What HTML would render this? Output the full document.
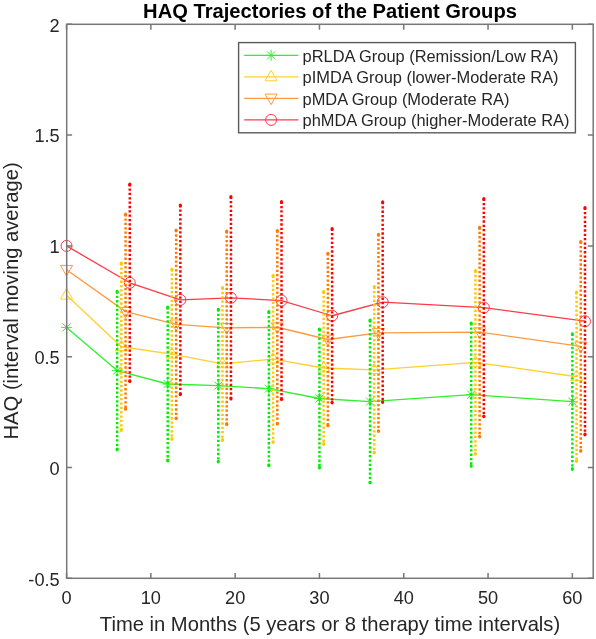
<!DOCTYPE html>
<html><head><meta charset="utf-8"><style>
html,body{margin:0;padding:0;background:#fff;width:596px;height:639px;overflow:hidden}
svg{display:block;will-change:transform}
</style></head><body>
<svg width="596" height="639" viewBox="0 0 596 639">
<style>
text{font-family:"Liberation Sans",sans-serif;fill:#262626}
.tl{font-size:18.2px}
.lg{font-size:16.4px}
.ti{font-size:20.15px;font-weight:bold;fill:#000}
.al{font-size:20.2px}
</style>
<rect width="596" height="639" fill="#fff"/>
<path d="M66.55 327.40 L117.13 370.60 L167.71 384.00 L218.29 385.60 L268.87 388.65 L319.45 398.50 L370.03 401.55 L471.19 394.65 L572.35 401.55" stroke="#30ee30" stroke-width="1.3" fill="none" stroke-linejoin="round"/><path d="M61.15 327.40H71.95M66.55 322.00V332.80M62.55 323.40L70.55 331.40M62.55 331.40L70.55 323.40" stroke="#30ee30" stroke-width="1" fill="none"/><path d="M111.73 370.60H122.53M117.13 365.20V376.00M113.13 366.60L121.13 374.60M113.13 374.60L121.13 366.60" stroke="#30ee30" stroke-width="1" fill="none"/><path d="M162.31 384.00H173.11M167.71 378.60V389.40M163.71 380.00L171.71 388.00M163.71 388.00L171.71 380.00" stroke="#30ee30" stroke-width="1" fill="none"/><path d="M212.89 385.60H223.69M218.29 380.20V391.00M214.29 381.60L222.29 389.60M214.29 389.60L222.29 381.60" stroke="#30ee30" stroke-width="1" fill="none"/><path d="M263.47 388.65H274.27M268.87 383.25V394.05M264.87 384.65L272.87 392.65M264.87 392.65L272.87 384.65" stroke="#30ee30" stroke-width="1" fill="none"/><path d="M314.05 398.50H324.85M319.45 393.10V403.90M315.45 394.50L323.45 402.50M315.45 402.50L323.45 394.50" stroke="#30ee30" stroke-width="1" fill="none"/><path d="M364.63 401.55H375.43M370.03 396.15V406.95M366.03 397.55L374.03 405.55M366.03 405.55L374.03 397.55" stroke="#30ee30" stroke-width="1" fill="none"/><path d="M465.79 394.65H476.59M471.19 389.25V400.05M467.19 390.65L475.19 398.65M467.19 398.65L475.19 390.65" stroke="#30ee30" stroke-width="1" fill="none"/><path d="M566.95 401.55H577.75M572.35 396.15V406.95M568.35 397.55L576.35 405.55M568.35 405.55L576.35 397.55" stroke="#30ee30" stroke-width="1" fill="none"/><path d="M66.55 295.20 L121.34 346.75 L171.93 354.20 L222.50 363.90 L273.08 359.05 L323.67 368.00 L374.25 369.80 L475.40 362.30 L576.56 376.75" stroke="#ffd030" stroke-width="1.3" fill="none" stroke-linejoin="round"/><path d="M66.55 288.60L72.55 299.10L60.55 299.10Z" stroke="#ffd030" stroke-width="1" fill="none"/><path d="M121.34 340.15L127.34 350.65L115.34 350.65Z" stroke="#ffd030" stroke-width="1" fill="none"/><path d="M171.93 347.60L177.93 358.10L165.93 358.10Z" stroke="#ffd030" stroke-width="1" fill="none"/><path d="M222.50 357.30L228.50 367.80L216.50 367.80Z" stroke="#ffd030" stroke-width="1" fill="none"/><path d="M273.08 352.45L279.08 362.95L267.08 362.95Z" stroke="#ffd030" stroke-width="1" fill="none"/><path d="M323.67 361.40L329.67 371.90L317.67 371.90Z" stroke="#ffd030" stroke-width="1" fill="none"/><path d="M374.25 363.20L380.25 373.70L368.25 373.70Z" stroke="#ffd030" stroke-width="1" fill="none"/><path d="M475.40 355.70L481.40 366.20L469.40 366.20Z" stroke="#ffd030" stroke-width="1" fill="none"/><path d="M576.56 370.15L582.56 380.65L570.56 380.65Z" stroke="#ffd030" stroke-width="1" fill="none"/><path d="M66.55 269.70 L125.56 311.65 L176.14 324.30 L226.72 327.85 L277.30 327.25 L327.88 339.50 L378.46 332.85 L479.62 332.15 L580.78 346.40" stroke="#ff9a40" stroke-width="1.3" fill="none" stroke-linejoin="round"/><path d="M66.55 276.00L72.55 265.40L60.55 265.40Z" stroke="#ff9a40" stroke-width="1" fill="none"/><path d="M125.56 317.95L131.56 307.35L119.56 307.35Z" stroke="#ff9a40" stroke-width="1" fill="none"/><path d="M176.14 330.60L182.14 320.00L170.14 320.00Z" stroke="#ff9a40" stroke-width="1" fill="none"/><path d="M226.72 334.15L232.72 323.55L220.72 323.55Z" stroke="#ff9a40" stroke-width="1" fill="none"/><path d="M277.30 333.55L283.30 322.95L271.30 322.95Z" stroke="#ff9a40" stroke-width="1" fill="none"/><path d="M327.88 345.80L333.88 335.20L321.88 335.20Z" stroke="#ff9a40" stroke-width="1" fill="none"/><path d="M378.46 339.15L384.46 328.55L372.46 328.55Z" stroke="#ff9a40" stroke-width="1" fill="none"/><path d="M479.62 338.45L485.62 327.85L473.62 327.85Z" stroke="#ff9a40" stroke-width="1" fill="none"/><path d="M580.78 352.70L586.78 342.10L574.78 342.10Z" stroke="#ff9a40" stroke-width="1" fill="none"/><path d="M66.55 245.90 L129.77 282.80 L180.35 299.85 L230.94 297.80 L281.51 300.55 L332.10 315.75 L382.68 302.15 L483.83 307.60 L584.99 321.20" stroke="#ff3a48" stroke-width="1.3" fill="none" stroke-linejoin="round"/><circle cx="66.55" cy="245.90" r="5.5" stroke="#ff3a48" stroke-width="1" fill="none"/><circle cx="129.77" cy="282.80" r="5.5" stroke="#ff3a48" stroke-width="1" fill="none"/><circle cx="180.35" cy="299.85" r="5.5" stroke="#ff3a48" stroke-width="1" fill="none"/><circle cx="230.94" cy="297.80" r="5.5" stroke="#ff3a48" stroke-width="1" fill="none"/><circle cx="281.51" cy="300.55" r="5.5" stroke="#ff3a48" stroke-width="1" fill="none"/><circle cx="332.10" cy="315.75" r="5.5" stroke="#ff3a48" stroke-width="1" fill="none"/><circle cx="382.68" cy="302.15" r="5.5" stroke="#ff3a48" stroke-width="1" fill="none"/><circle cx="483.83" cy="307.60" r="5.5" stroke="#ff3a48" stroke-width="1" fill="none"/><circle cx="584.99" cy="321.20" r="5.5" stroke="#ff3a48" stroke-width="1" fill="none"/>
<line x1="117.13" y1="291.40" x2="117.13" y2="449.80" stroke="#00ee00" stroke-width="2.5" stroke-dasharray="2.3 2.05"/><ellipse cx="117.13" cy="291.70" rx="1.6" ry="1.9" fill="#00ee00"/><ellipse cx="117.13" cy="449.50" rx="1.6" ry="1.9" fill="#00ee00"/><line x1="121.34" y1="263.20" x2="121.34" y2="430.30" stroke="#ffc800" stroke-width="2.5" stroke-dasharray="2.3 2.05"/><ellipse cx="121.34" cy="263.50" rx="1.6" ry="1.9" fill="#ffc800"/><ellipse cx="121.34" cy="430.00" rx="1.6" ry="1.9" fill="#ffc800"/><line x1="125.56" y1="214.10" x2="125.56" y2="409.20" stroke="#ff7800" stroke-width="2.5" stroke-dasharray="2.3 2.05"/><ellipse cx="125.56" cy="214.40" rx="1.6" ry="1.9" fill="#ff7800"/><ellipse cx="125.56" cy="408.90" rx="1.6" ry="1.9" fill="#ff7800"/><line x1="129.77" y1="184.10" x2="129.77" y2="381.50" stroke="#ff0000" stroke-width="2.5" stroke-dasharray="2.3 2.05"/><ellipse cx="129.77" cy="184.40" rx="1.6" ry="1.9" fill="#ff0000"/><ellipse cx="129.77" cy="381.20" rx="1.6" ry="1.9" fill="#ff0000"/><line x1="167.71" y1="307.20" x2="167.71" y2="460.80" stroke="#00ee00" stroke-width="2.5" stroke-dasharray="2.3 2.05"/><ellipse cx="167.71" cy="307.50" rx="1.6" ry="1.9" fill="#00ee00"/><ellipse cx="167.71" cy="460.50" rx="1.6" ry="1.9" fill="#00ee00"/><line x1="171.93" y1="269.20" x2="171.93" y2="439.20" stroke="#ffc800" stroke-width="2.5" stroke-dasharray="2.3 2.05"/><ellipse cx="171.93" cy="269.50" rx="1.6" ry="1.9" fill="#ffc800"/><ellipse cx="171.93" cy="438.90" rx="1.6" ry="1.9" fill="#ffc800"/><line x1="176.14" y1="230.00" x2="176.14" y2="418.60" stroke="#ff7800" stroke-width="2.5" stroke-dasharray="2.3 2.05"/><ellipse cx="176.14" cy="230.30" rx="1.6" ry="1.9" fill="#ff7800"/><ellipse cx="176.14" cy="418.30" rx="1.6" ry="1.9" fill="#ff7800"/><line x1="180.35" y1="205.10" x2="180.35" y2="394.60" stroke="#ff0000" stroke-width="2.5" stroke-dasharray="2.3 2.05"/><ellipse cx="180.35" cy="205.40" rx="1.6" ry="1.9" fill="#ff0000"/><ellipse cx="180.35" cy="394.30" rx="1.6" ry="1.9" fill="#ff0000"/><line x1="218.29" y1="309.30" x2="218.29" y2="461.90" stroke="#00ee00" stroke-width="2.5" stroke-dasharray="2.3 2.05"/><ellipse cx="218.29" cy="309.60" rx="1.6" ry="1.9" fill="#00ee00"/><ellipse cx="218.29" cy="461.60" rx="1.6" ry="1.9" fill="#00ee00"/><line x1="222.50" y1="287.50" x2="222.50" y2="440.30" stroke="#ffc800" stroke-width="2.5" stroke-dasharray="2.3 2.05"/><ellipse cx="222.50" cy="287.80" rx="1.6" ry="1.9" fill="#ffc800"/><ellipse cx="222.50" cy="440.00" rx="1.6" ry="1.9" fill="#ffc800"/><line x1="226.72" y1="231.20" x2="226.72" y2="424.50" stroke="#ff7800" stroke-width="2.5" stroke-dasharray="2.3 2.05"/><ellipse cx="226.72" cy="231.50" rx="1.6" ry="1.9" fill="#ff7800"/><ellipse cx="226.72" cy="424.20" rx="1.6" ry="1.9" fill="#ff7800"/><line x1="230.94" y1="196.60" x2="230.94" y2="399.00" stroke="#ff0000" stroke-width="2.5" stroke-dasharray="2.3 2.05"/><ellipse cx="230.94" cy="196.90" rx="1.6" ry="1.9" fill="#ff0000"/><ellipse cx="230.94" cy="398.70" rx="1.6" ry="1.9" fill="#ff0000"/><line x1="268.87" y1="311.60" x2="268.87" y2="465.70" stroke="#00ee00" stroke-width="2.5" stroke-dasharray="2.3 2.05"/><ellipse cx="268.87" cy="311.90" rx="1.6" ry="1.9" fill="#00ee00"/><ellipse cx="268.87" cy="465.40" rx="1.6" ry="1.9" fill="#00ee00"/><line x1="273.08" y1="275.70" x2="273.08" y2="442.40" stroke="#ffc800" stroke-width="2.5" stroke-dasharray="2.3 2.05"/><ellipse cx="273.08" cy="276.00" rx="1.6" ry="1.9" fill="#ffc800"/><ellipse cx="273.08" cy="442.10" rx="1.6" ry="1.9" fill="#ffc800"/><line x1="277.30" y1="230.50" x2="277.30" y2="424.00" stroke="#ff7800" stroke-width="2.5" stroke-dasharray="2.3 2.05"/><ellipse cx="277.30" cy="230.80" rx="1.6" ry="1.9" fill="#ff7800"/><ellipse cx="277.30" cy="423.70" rx="1.6" ry="1.9" fill="#ff7800"/><line x1="281.51" y1="201.60" x2="281.51" y2="399.50" stroke="#ff0000" stroke-width="2.5" stroke-dasharray="2.3 2.05"/><ellipse cx="281.51" cy="201.90" rx="1.6" ry="1.9" fill="#ff0000"/><ellipse cx="281.51" cy="399.20" rx="1.6" ry="1.9" fill="#ff0000"/><line x1="319.45" y1="329.10" x2="319.45" y2="467.90" stroke="#00ee00" stroke-width="2.5" stroke-dasharray="2.3 2.05"/><ellipse cx="319.45" cy="329.40" rx="1.6" ry="1.9" fill="#00ee00"/><ellipse cx="319.45" cy="467.60" rx="1.6" ry="1.9" fill="#00ee00"/><line x1="323.67" y1="291.70" x2="323.67" y2="444.30" stroke="#ffc800" stroke-width="2.5" stroke-dasharray="2.3 2.05"/><ellipse cx="323.67" cy="292.00" rx="1.6" ry="1.9" fill="#ffc800"/><ellipse cx="323.67" cy="444.00" rx="1.6" ry="1.9" fill="#ffc800"/><line x1="327.88" y1="253.30" x2="327.88" y2="425.70" stroke="#ff7800" stroke-width="2.5" stroke-dasharray="2.3 2.05"/><ellipse cx="327.88" cy="253.60" rx="1.6" ry="1.9" fill="#ff7800"/><ellipse cx="327.88" cy="425.40" rx="1.6" ry="1.9" fill="#ff7800"/><line x1="332.10" y1="228.60" x2="332.10" y2="402.90" stroke="#ff0000" stroke-width="2.5" stroke-dasharray="2.3 2.05"/><ellipse cx="332.10" cy="228.90" rx="1.6" ry="1.9" fill="#ff0000"/><ellipse cx="332.10" cy="402.60" rx="1.6" ry="1.9" fill="#ff0000"/><line x1="370.03" y1="320.20" x2="370.03" y2="482.90" stroke="#00ee00" stroke-width="2.5" stroke-dasharray="2.3 2.05"/><ellipse cx="370.03" cy="320.50" rx="1.6" ry="1.9" fill="#00ee00"/><ellipse cx="370.03" cy="482.60" rx="1.6" ry="1.9" fill="#00ee00"/><line x1="374.25" y1="286.70" x2="374.25" y2="452.90" stroke="#ffc800" stroke-width="2.5" stroke-dasharray="2.3 2.05"/><ellipse cx="374.25" cy="287.00" rx="1.6" ry="1.9" fill="#ffc800"/><ellipse cx="374.25" cy="452.60" rx="1.6" ry="1.9" fill="#ffc800"/><line x1="378.46" y1="234.30" x2="378.46" y2="431.40" stroke="#ff7800" stroke-width="2.5" stroke-dasharray="2.3 2.05"/><ellipse cx="378.46" cy="234.60" rx="1.6" ry="1.9" fill="#ff7800"/><ellipse cx="378.46" cy="431.10" rx="1.6" ry="1.9" fill="#ff7800"/><line x1="382.68" y1="201.90" x2="382.68" y2="402.40" stroke="#ff0000" stroke-width="2.5" stroke-dasharray="2.3 2.05"/><ellipse cx="382.68" cy="202.20" rx="1.6" ry="1.9" fill="#ff0000"/><ellipse cx="382.68" cy="402.10" rx="1.6" ry="1.9" fill="#ff0000"/><line x1="471.19" y1="323.10" x2="471.19" y2="466.20" stroke="#00ee00" stroke-width="2.5" stroke-dasharray="2.3 2.05"/><ellipse cx="471.19" cy="323.40" rx="1.6" ry="1.9" fill="#00ee00"/><ellipse cx="471.19" cy="465.90" rx="1.6" ry="1.9" fill="#00ee00"/><line x1="475.40" y1="270.50" x2="475.40" y2="454.10" stroke="#ffc800" stroke-width="2.5" stroke-dasharray="2.3 2.05"/><ellipse cx="475.40" cy="270.80" rx="1.6" ry="1.9" fill="#ffc800"/><ellipse cx="475.40" cy="453.80" rx="1.6" ry="1.9" fill="#ffc800"/><line x1="479.62" y1="227.40" x2="479.62" y2="436.90" stroke="#ff7800" stroke-width="2.5" stroke-dasharray="2.3 2.05"/><ellipse cx="479.62" cy="227.70" rx="1.6" ry="1.9" fill="#ff7800"/><ellipse cx="479.62" cy="436.60" rx="1.6" ry="1.9" fill="#ff7800"/><line x1="483.83" y1="198.60" x2="483.83" y2="416.60" stroke="#ff0000" stroke-width="2.5" stroke-dasharray="2.3 2.05"/><ellipse cx="483.83" cy="198.90" rx="1.6" ry="1.9" fill="#ff0000"/><ellipse cx="483.83" cy="416.30" rx="1.6" ry="1.9" fill="#ff0000"/><line x1="572.35" y1="333.80" x2="572.35" y2="469.30" stroke="#00ee00" stroke-width="2.5" stroke-dasharray="2.3 2.05"/><ellipse cx="572.35" cy="334.10" rx="1.6" ry="1.9" fill="#00ee00"/><ellipse cx="572.35" cy="469.00" rx="1.6" ry="1.9" fill="#00ee00"/><line x1="576.56" y1="292.10" x2="576.56" y2="461.40" stroke="#ffc800" stroke-width="2.5" stroke-dasharray="2.3 2.05"/><ellipse cx="576.56" cy="292.40" rx="1.6" ry="1.9" fill="#ffc800"/><ellipse cx="576.56" cy="461.10" rx="1.6" ry="1.9" fill="#ffc800"/><line x1="580.78" y1="241.60" x2="580.78" y2="451.20" stroke="#ff7800" stroke-width="2.5" stroke-dasharray="2.3 2.05"/><ellipse cx="580.78" cy="241.90" rx="1.6" ry="1.9" fill="#ff7800"/><ellipse cx="580.78" cy="450.90" rx="1.6" ry="1.9" fill="#ff7800"/><line x1="584.99" y1="207.60" x2="584.99" y2="434.80" stroke="#ff0000" stroke-width="2.5" stroke-dasharray="2.3 2.05"/><ellipse cx="584.99" cy="207.90" rx="1.6" ry="1.9" fill="#ff0000"/><ellipse cx="584.99" cy="434.50" rx="1.6" ry="1.9" fill="#ff0000"/>
<rect x="66.7" y="24.3" width="526.50" height="554.00" fill="none" stroke="#787878" stroke-width="1.5"/><path d="M66.55 578.3V572.9M66.55 24.3V29.700000000000003" stroke="#787878" stroke-width="1.5"/><text x="66.55" y="603.5" text-anchor="middle" class="tl">0</text><path d="M150.85 578.3V572.9M150.85 24.3V29.700000000000003" stroke="#787878" stroke-width="1.5"/><text x="150.85" y="603.5" text-anchor="middle" class="tl">10</text><path d="M235.15 578.3V572.9M235.15 24.3V29.700000000000003" stroke="#787878" stroke-width="1.5"/><text x="235.15" y="603.5" text-anchor="middle" class="tl">20</text><path d="M319.45 578.3V572.9M319.45 24.3V29.700000000000003" stroke="#787878" stroke-width="1.5"/><text x="319.45" y="603.5" text-anchor="middle" class="tl">30</text><path d="M403.75 578.3V572.9M403.75 24.3V29.700000000000003" stroke="#787878" stroke-width="1.5"/><text x="403.75" y="603.5" text-anchor="middle" class="tl">40</text><path d="M488.05 578.3V572.9M488.05 24.3V29.700000000000003" stroke="#787878" stroke-width="1.5"/><text x="488.05" y="603.5" text-anchor="middle" class="tl">50</text><path d="M572.35 578.3V572.9M572.35 24.3V29.700000000000003" stroke="#787878" stroke-width="1.5"/><text x="572.35" y="603.5" text-anchor="middle" class="tl">60</text><path d="M66.7 24.30H72.10000000000001M593.2 24.30H587.8000000000001" stroke="#787878" stroke-width="1.5"/><text x="59.7" y="31.50" text-anchor="end" class="tl">2</text><path d="M66.7 135.10H72.10000000000001M593.2 135.10H587.8000000000001" stroke="#787878" stroke-width="1.5"/><text x="59.7" y="142.30" text-anchor="end" class="tl">1.5</text><path d="M66.7 245.90H72.10000000000001M593.2 245.90H587.8000000000001" stroke="#787878" stroke-width="1.5"/><text x="59.7" y="253.10" text-anchor="end" class="tl">1</text><path d="M66.7 356.70H72.10000000000001M593.2 356.70H587.8000000000001" stroke="#787878" stroke-width="1.5"/><text x="59.7" y="363.90" text-anchor="end" class="tl">0.5</text><path d="M66.7 467.50H72.10000000000001M593.2 467.50H587.8000000000001" stroke="#787878" stroke-width="1.5"/><text x="59.7" y="474.70" text-anchor="end" class="tl">0</text><path d="M66.7 578.30H72.10000000000001M593.2 578.30H587.8000000000001" stroke="#787878" stroke-width="1.5"/><text x="59.7" y="585.50" text-anchor="end" class="tl">-0.5</text>
<rect x="238.6" y="42.6" width="336.80" height="90.20" fill="#fff" stroke="#5a5a5a" stroke-width="1.4"/><line x1="244.2" y1="55.40" x2="298.4" y2="55.40" stroke="#30ee30" stroke-width="1.3"/><path d="M265.70 55.40H276.50M271.10 50.00V60.80M267.10 51.40L275.10 59.40M267.10 59.40L275.10 51.40" stroke="#30ee30" stroke-width="1" fill="none"/><text x="302.6" y="61.60" class="lg">pRLDA Group (Remission/Low RA)</text><line x1="244.2" y1="76.90" x2="298.4" y2="76.90" stroke="#ffd030" stroke-width="1.3"/><path d="M271.10 70.30L277.10 80.80L265.10 80.80Z" stroke="#ffd030" stroke-width="1" fill="none"/><text x="302.6" y="83.10" class="lg">pIMDA Group (lower-Moderate RA)</text><line x1="244.2" y1="98.40" x2="298.4" y2="98.40" stroke="#ff9a40" stroke-width="1.3"/><path d="M271.10 104.70L277.10 94.10L265.10 94.10Z" stroke="#ff9a40" stroke-width="1" fill="none"/><text x="302.6" y="104.60" class="lg">pMDA Group (Moderate RA)</text><line x1="244.2" y1="119.90" x2="298.4" y2="119.90" stroke="#ff3a48" stroke-width="1.3"/><circle cx="271.10" cy="119.90" r="5.5" stroke="#ff3a48" stroke-width="1" fill="none"/><text x="302.6" y="126.10" class="lg">phMDA Group (higher-Moderate RA)</text>
<text x="330" y="17.8" text-anchor="middle" class="ti">HAQ Trajectories of the Patient Groups</text>
<text x="330" y="631" text-anchor="middle" class="al">Time in Months (5 years or 8 therapy time intervals)</text>
<text transform="translate(17.9,300.9) rotate(-90)" text-anchor="middle" class="al">HAQ (interval moving average)</text>
</svg>
</body></html>
